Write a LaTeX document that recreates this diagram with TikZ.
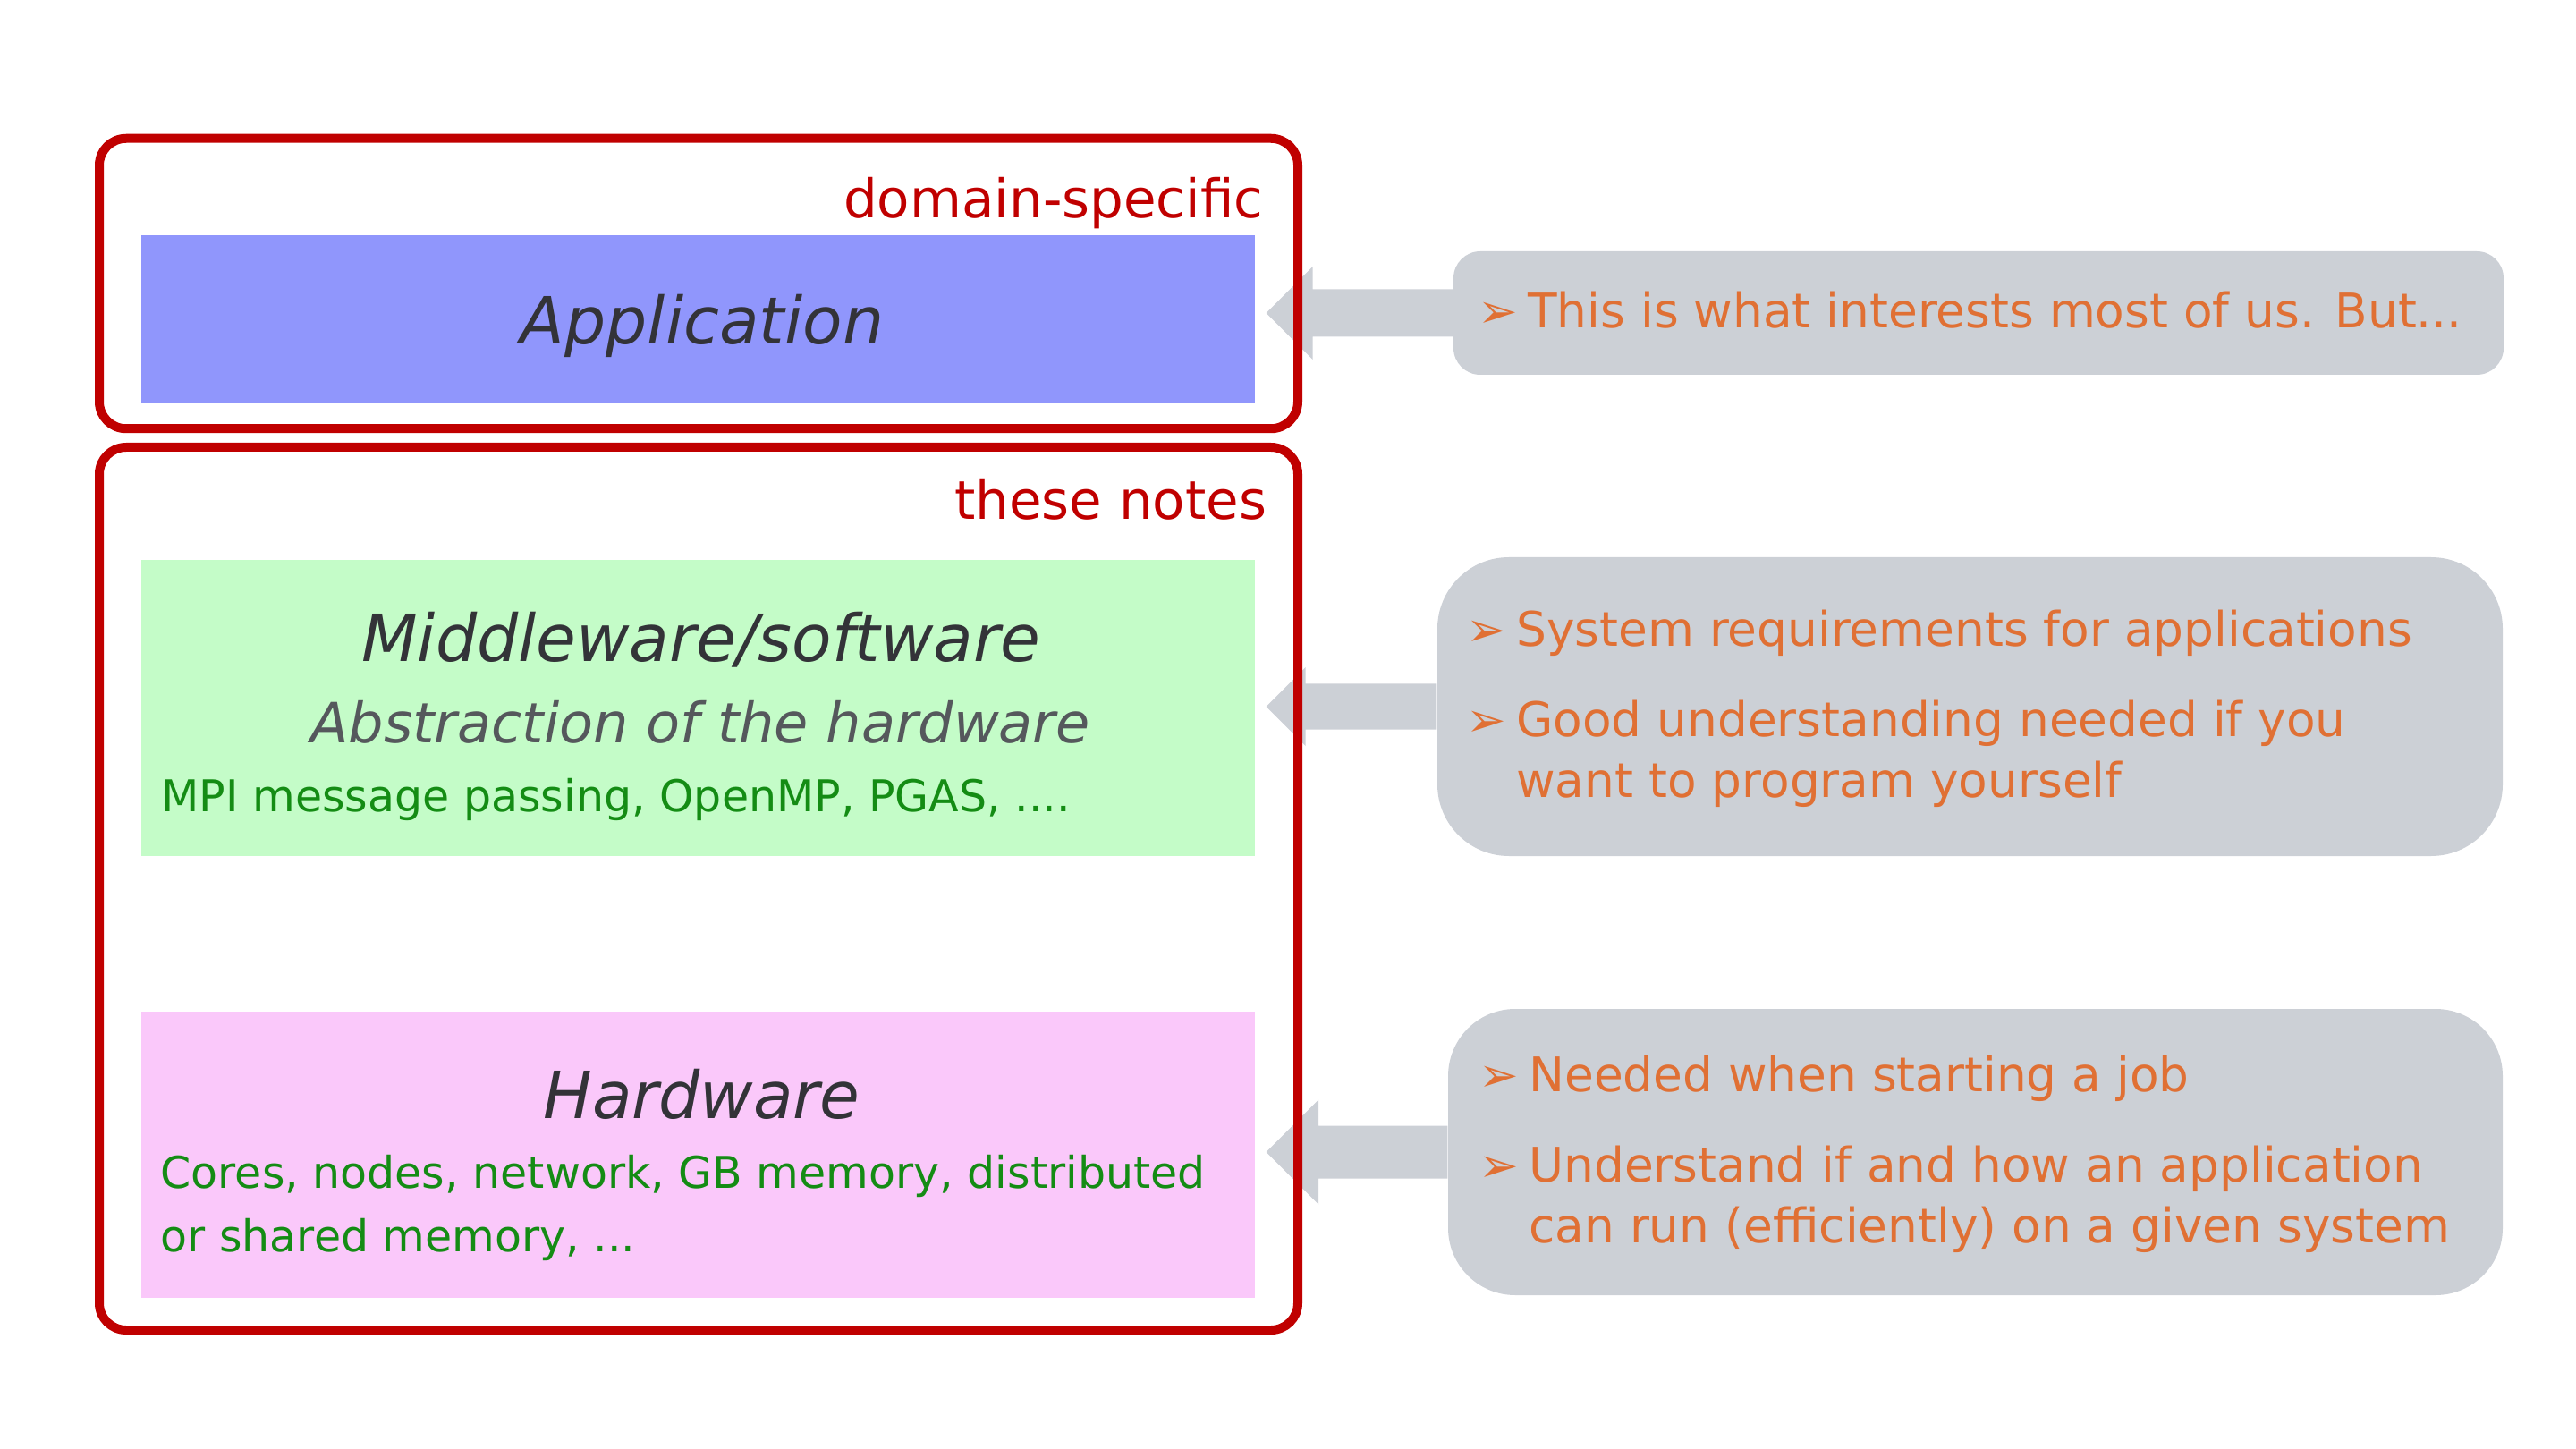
\documentclass[tikz,border=0pt]{standalone}
\usepackage{fontspec}
\setmainfont{DejaVu Sans}
\usepackage{tikz}

\definecolor{framered}{RGB}{192,0,0}
\definecolor{appblue}{RGB}{144,150,252}
\definecolor{midgreen}{RGB}{196,252,200}
\definecolor{hwpink}{RGB}{250,200,250}
\definecolor{notegray}{RGB}{204,208,214}
\definecolor{noteorange}{RGB}{224,112,52}
\definecolor{textgreen}{RGB}{20,140,20}
\definecolor{titlegray}{RGB}{51,51,56}
\definecolor{subgray}{RGB}{85,88,92}

% one bullet line of a note, later lines hang under the text
\newcommand{\nitem}[1]{\hangindent=0.95em\noindent\makebox[0.95em][l]{\kern-0.1em ➢}#1\par}
\newcommand{\notepar}[1]{\parbox[t]{11.5cm}{\setlength{\parskip}{9.4pt}#1}}

\begin{document}
\begin{tikzpicture}[
    layer/.style={rectangle, inner sep=0pt, minimum width=12.45cm},
    frame/.style={rectangle, draw=framered, line width=0.1cm, rounded corners=0.3cm,
                  minimum width=13.4cm, inner sep=0pt},
    note/.style={rectangle, fill=notegray, inner sep=0pt},
    title/.style={inner sep=0pt, anchor=base, text=titlegray,
                  font=\fontsize{20.7}{24}\selectfont\itshape},
    subtitle/.style={inner sep=0pt, anchor=base, text=subgray,
                  font=\fontsize{17.67}{21}\selectfont\itshape},
    detail/.style={inner sep=0pt, anchor=base west, text=textgreen,
                  font=\fontsize{13.94}{20.2}\selectfont},
    framelabel/.style={inner sep=0pt, anchor=base east, text=framered,
                  font=\fontsize{16.93}{20}\selectfont},
    notetext/.style={inner sep=0pt, anchor=base west, text=noteorange,
                  font=\fontsize{15.17}{19.35}\selectfont}
  ]
  \useasboundingbox (0,0) rectangle (28.8,-16.2);

  % the three layers
  \node[layer, fill=appblue, minimum height=1.88cm] (app) at (7.805,-3.57) {};
  \node[layer, fill=midgreen, minimum height=3.31cm] (mid) at (7.805,-7.915) {};
  \node[layer, fill=hwpink, minimum height=3.20cm] (hw) at (7.805,-12.91) {};

  \node[title] (apptxt) at (7.85,-3.85) {Application};
  \node[title] (midtxt) at (7.835,-7.40) {Middleware/software};
  \node[subtitle] (abstxt) at (7.83,-8.30) {Abstraction of the hardware};
  \node[detail] (mpitxt) at (1.80,-9.07) {MPI message passing, OpenMP, PGAS, ....};
  \node[title] (hwtxt) at (7.845,-12.50) {Hardware};
  \node[detail] (hwdet) at (1.79,-13.28)
    {\parbox[t]{12cm}{Cores, nodes, network, GB memory, distributed\\or shared memory, ...}};

  % notes on the right
  \node[note, rounded corners=0.3cm, minimum width=11.74cm, minimum height=1.38cm] (note1) at (22.12,-3.50) {};
  \node[note, rounded corners=0.8cm, minimum width=11.91cm, minimum height=3.34cm] (note2) at (22.025,-7.90) {};
  \node[note, rounded corners=0.75cm, minimum width=11.79cm, minimum height=3.20cm] (note3) at (22.085,-12.88) {};

  \node[notetext] (n1txt) at (16.57,-3.67)
    {\notepar{\nitem{This is what interests most of us. But...}}};
  \node[notetext] (n2txt) at (16.44,-7.22)
    {\notepar{\nitem{System requirements for applications}\nitem{Good understanding needed if you\newline want to program yourself}}};
  \node[notetext] (n3txt) at (16.58,-12.20)
    {\notepar{\nitem{Needed when starting a job}\nitem{Understand if and how an application\newline can run (efficiently) on a given system}}};

  % block arrows from the notes to the layers
  \foreach \n/\b/\s/\h in {note1/app/0.265/0.52, note2/mid/0.255/0.44, note3/hw/0.295/0.585} {
    \coordinate (t) at (\n.west -| \b.east);
    \fill[notegray] ([xshift=0.12cm]t) -- ++(\h,\h) -- ++(0,\s-\h)
      -- ([yshift=\s cm]\n.west) -- ([yshift=-\s cm]\n.west)
      -- ([xshift=0.12cm+\h cm,yshift=-\s cm]t) -- ++(0,\s-\h) -- cycle;
  }

  % red frames on top
  \node[frame, minimum height=3.245cm] (domain) at (7.81,-3.17) {};
  \node[frame, minimum height=9.87cm] (notes) at (7.81,-9.935) {};
  \node[framelabel] (domlbl) at (14.13,-2.44) {domain-specific};
  \node[framelabel] (noteslbl) at (14.17,-5.81) {these notes};

\end{tikzpicture}
\end{document}
